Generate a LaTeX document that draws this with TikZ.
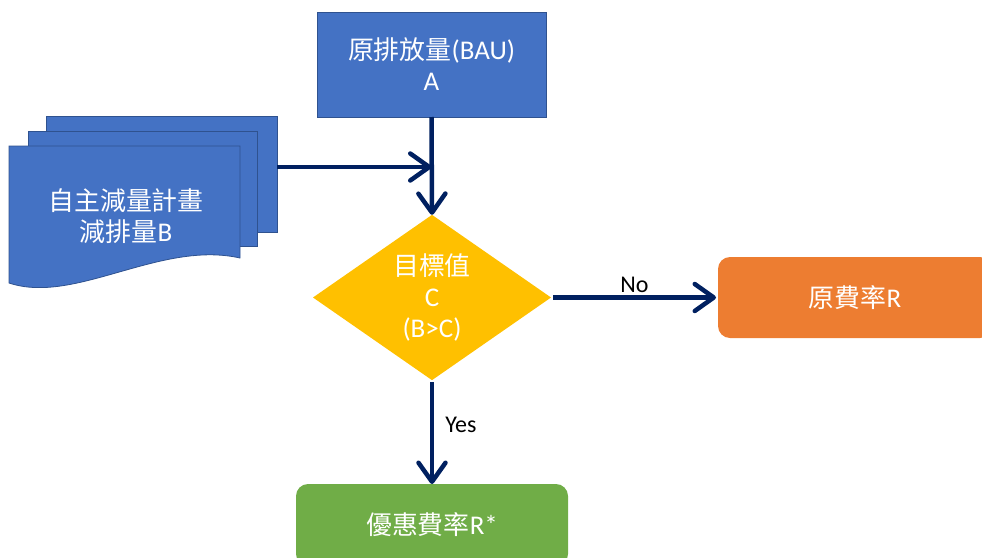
\documentclass[tikz,border=0pt]{standalone}
\usepackage{fontspec}
\setmainfont{Carlito}
\newfontfamily\cjk[Scale=0.96]{Noto Sans CJK TC}
\usetikzlibrary{positioning,shapes.geometric,arrows.meta}
\definecolor{planblue}{HTML}{4472C4}
\definecolor{edgeblue}{HTML}{2F528F}
\definecolor{navyline}{HTML}{002060}
\definecolor{goldfill}{HTML}{FFC000}
\definecolor{orangefill}{HTML}{ED7D31}
\definecolor{greenfill}{HTML}{70AD47}

\begin{document}
\begin{tikzpicture}[x=1pt,y=-1pt,
    bigtext/.style={text=white,align=center,font=\fontsize{27}{31}\selectfont},
    sheet/.style={fill=planblue,draw=edgeblue,line width=0.8pt},
    flow/.style={draw=navyline,line width=4.5pt,
                 -{Straight Barb[length=19pt,width=27pt,round,line width=4.5pt]}},
    tag/.style={text=black,font=\fontsize{24}{28}\selectfont,inner sep=3pt}]
  \clip (0,0) rectangle (982,557);

  % top box
  \node[bigtext,rectangle,fill=planblue,draw=edgeblue,line width=0.8pt,
        minimum width=229pt,minimum height=105pt,outer sep=0pt] (bau) at (431.5,64.5)
        {{\cjk 原排放量}(BAU)\\A};

  % stacked documents
  \path[sheet] (46,116) rectangle (277,232);
  \path[sheet] (28,131) rectangle (257,246);
  \path[sheet] (9,146) -- (240,146) -- (240,258)
        .. controls (160,240) and (75,305) .. (9,283) -- cycle;
  \node[bigtext] (plan) at (126,216) {{\cjk 自主減量計畫}\\{\cjk 減排量}B};
  \coordinate (planout) at (277,167);

  % decision
  \node[bigtext,diamond,fill=goldfill,minimum width=238pt,minimum height=165pt,
        inner sep=0pt,outer sep=0pt] (target) at (432,297.5)
        {{\cjk 目標值}\\C\\(B>C)};

  % results
  \node[bigtext,rectangle,rounded corners=12pt,fill=orangefill,
        minimum width=274pt,minimum height=81pt,outer sep=0pt] (rate) at (855,297.5)
        {{\cjk 原費率}R};
  \node[bigtext,rectangle,rounded corners=12pt,fill=greenfill,
        minimum width=272pt,minimum height=82pt,outer sep=0pt] (discount) at (432,525)
        {{\cjk 優惠費率}R*};

  % connectors
  \draw[flow] (bau.south) -- (target.north);
  \draw[flow] (planout) -- (planout -| bau.south);
  \draw[flow] ([xshift=2pt]target.east) -- node[tag,above] {No} ([xshift=-2pt]rate.west);
  \draw[flow] ([yshift=-2pt]target.south) -- node[tag,right=8pt,pos=0.42] {Yes} (discount.north);
\end{tikzpicture}
\end{document}
